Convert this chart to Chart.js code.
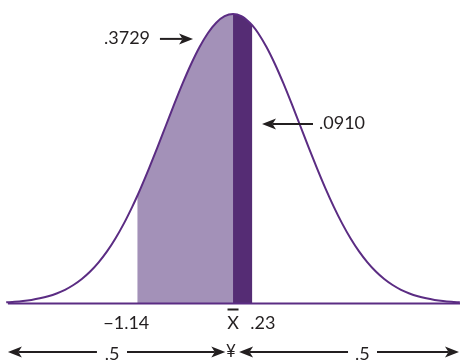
<!DOCTYPE html>
<html>
<head>
<meta charset="utf-8">
<script src="https://cdn.jsdelivr.net/npm/chart.js@4/dist/chart.umd.min.js"></script>
<style>
  html, body { margin: 0; padding: 0; background: #ffffff; }
  canvas { display: block; }
</style>
</head>
<body>
<canvas id="chart" width="460" height="362"></canvas>
<script>
// z positions along the axis and the height of the bell curve at each one (peak = 1)
const zValues = [
  -2.7, -2.6, -2.5, -2.4, -2.3, -2.2, -2.1, -2.0, -1.9, -1.8, -1.7, -1.6, -1.5, -1.4,
  -1.3, -1.2, -1.14, -1.1, -1.0, -0.9, -0.8, -0.7, -0.6, -0.5, -0.4, -0.3, -0.2, -0.1,
  0, 0.1, 0.2, 0.23, 0.3, 0.4, 0.5, 0.6, 0.7, 0.8, 0.9, 1.0, 1.1, 1.2, 1.3, 1.4,
  1.5, 1.6, 1.7, 1.8, 1.9, 2.0, 2.1, 2.2, 2.3, 2.4, 2.5, 2.6, 2.7
];
const heights = [
  0.0039, 0.0058, 0.0085, 0.0124, 0.0178, 0.0250, 0.0347, 0.0474, 0.0639, 0.0847, 0.1105, 0.1422, 0.1800, 0.2245,
  0.2758, 0.3338, 0.3714, 0.3977, 0.4667, 0.5394, 0.6140, 0.6884, 0.7601, 0.8265, 0.8852, 0.9337, 0.9700, 0.9924,
  1.0000, 0.9924, 0.9700, 0.9605, 0.9337, 0.8852, 0.8265, 0.7601, 0.6884, 0.6140, 0.5394, 0.4667, 0.3977, 0.3338, 0.2758, 0.2245,
  0.1800, 0.1422, 0.1105, 0.0847, 0.0639, 0.0474, 0.0347, 0.0250, 0.0178, 0.0124, 0.0085, 0.0058, 0.0039
];

// shaded bands: from lowerZ to the mean, and from the mean to upperZ
const lowerZ = -1.14;
const meanZ = 0;
const upperZ = 0.23;

const areaLabels = ['.3729', '.0910'];
const tickLabels = ['\u22121.14', '.23'];
const meanLabel = 'X';
const halfLabels = ['.5', '.5'];
const centerMark = '\u00A5';

const LINE = '#5b2c83';
const DARK = '#552c74';
const LIGHT = '#a391b8';
const INK = '#231f20';
const FONT = '18px Lato, "Open Sans", sans-serif';

const curvePoints = zValues.map((z, i) => ({ x: z, y: heights[i] }));
const pointsBetween = (a, b) => curvePoints.filter(p => p.x >= a - 1e-9 && p.x <= b + 1e-9);

function drawArrow(ctx, x1, y1, x2, y2) {
  // shaft from (x1,y1) to the tip at (x2,y2) with a stealth head
  const ang = Math.atan2(y2 - y1, x2 - x1);
  const len = 14, half = 5.5, notch = 3.5;
  const cos = Math.cos(ang), sin = Math.sin(ang);
  ctx.beginPath();
  ctx.moveTo(x1, y1);
  ctx.lineTo(x2 - cos * (len - notch), y2 - sin * (len - notch));
  ctx.stroke();
  ctx.beginPath();
  ctx.moveTo(x2, y2);
  ctx.lineTo(x2 - cos * len - sin * half, y2 - sin * len + cos * half);
  ctx.lineTo(x2 - cos * (len - notch), y2 - sin * (len - notch));
  ctx.lineTo(x2 - cos * len + sin * half, y2 - sin * len - cos * half);
  ctx.closePath();
  ctx.fill();
}

const annotations = {
  id: 'annotations',
  afterDraw(chart) {
    const ctx = chart.ctx;
    const xs = chart.scales.x, ys = chart.scales.y;
    const X = v => xs.getPixelForValue(v);
    const Y = v => ys.getPixelForValue(v);
    const base = Y(0);

    ctx.save();
    ctx.fillStyle = INK;
    ctx.strokeStyle = INK;
    ctx.lineWidth = 2;
    ctx.font = FONT;
    ctx.textBaseline = 'alphabetic';

    // area of the light band
    ctx.textAlign = 'right';
    ctx.fillText(areaLabels[0], X(-0.988), Y(0.896));
    drawArrow(ctx, X(-0.87), Y(0.914), X(-0.476), Y(0.914));

    // area of the dark band
    ctx.textAlign = 'left';
    ctx.fillText(areaLabels[1], X(1.024), Y(0.603));
    drawArrow(ctx, X(0.952), Y(0.620), X(0.345), Y(0.620));

    // values under the axis
    ctx.textAlign = 'center';
    ctx.fillText(tickLabels[0], X(lowerZ) - 11, base + 25);
    ctx.fillText(meanLabel, X(meanZ), base + 25);
    ctx.fillRect(X(meanZ) - 5.5, base + 5, 11, 2);
    ctx.textAlign = 'left';
    ctx.fillText(tickLabels[1], X(upperZ) - 2, base + 25);

    // halves of the distribution
    const row = base + 48.5;
    const rowText = base + 56;
    ctx.textAlign = 'center';
    drawArrow(ctx, X(-1.62), row, X(-2.68), row);
    ctx.fillText(halfLabels[0], X(-1.44), rowText);
    drawArrow(ctx, X(-1.262), row, X(-0.092), row);
    drawArrow(ctx, X(1.369), row, X(0.072), row);
    ctx.fillText(halfLabels[1], X(1.54), rowText);
    drawArrow(ctx, X(1.714), row, X(2.69), row);
    ctx.font = '17px Lato, "Open Sans", sans-serif';
    ctx.fillText(centerMark, X(meanZ) - 2, base + 53);
    ctx.restore();
  }
};

new Chart(document.getElementById('chart'), {
  type: 'line',
  data: {
    datasets: [
      {
        data: curvePoints,
        borderColor: LINE,
        borderWidth: 2,
        cubicInterpolationMode: 'monotone',
        fill: false,
        pointRadius: 0,
        clip: false
      },
      {
        data: [{ x: -2.68, y: 0 }, { x: 2.702, y: 0 }],
        borderColor: LINE,
        borderWidth: 2.2,
        fill: false,
        pointRadius: 0,
        clip: false
      },
      {
        data: pointsBetween(meanZ, upperZ),
        borderWidth: 0,
        borderColor: 'rgba(0,0,0,0)',
        backgroundColor: DARK,
        cubicInterpolationMode: 'monotone',
        fill: 'origin',
        pointRadius: 0,
        clip: false
      },
      {
        data: pointsBetween(lowerZ, meanZ),
        borderWidth: 0,
        borderColor: 'rgba(0,0,0,0)',
        backgroundColor: LIGHT,
        cubicInterpolationMode: 'monotone',
        fill: 'origin',
        pointRadius: 0,
        clip: false
      }
    ]
  },
  options: {
    responsive: false,
    animation: false,
    devicePixelRatio: 1,
    layout: { padding: { left: 0, right: 0, top: 14, bottom: 58.5 } },
    scales: {
      x: { type: 'linear', min: -2.774, max: 2.702, display: false },
      y: { min: 0, max: 1, display: false }
    },
    plugins: {
      legend: { display: false },
      tooltip: { enabled: false }
    }
  },
  plugins: [annotations]
});
</script>
</body>
</html>
